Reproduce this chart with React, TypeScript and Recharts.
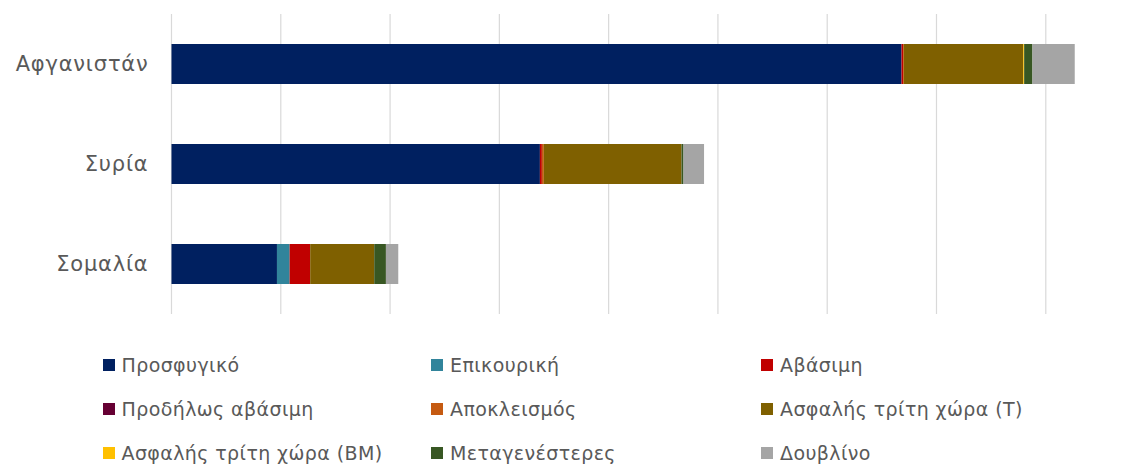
import { Bar, BarChart, CartesianGrid, Legend, XAxis, YAxis } from "recharts";

const countries = ["Αφγανιστάν", "Συρία", "Σομαλία"];

const prosfygiko = [6680, 3371, 965];
const epikouriki = [0, 0, 116];
const avasimi = [14, 18, 188];
const prodilosAvasimi = [0, 0, 0];
const apokleismos = [8, 18, 0];
const asfalisT = [1092, 1260, 586];
const asfalisBM = [8, 0, 0];
const metagenesteres = [76, 18, 107];
const doublino = [387, 188, 113];

const xTicks = [0, 1000, 2000, 3000, 4000, 5000, 6000, 7000, 8000];

const series = [
  { key: "prosfygiko", name: "Προσφυγικό", color: "#002060", values: prosfygiko },
  { key: "epikouriki", name: "Επικουρική", color: "#31849B", values: epikouriki },
  { key: "avasimi", name: "Αβάσιμη", color: "#C00000", values: avasimi },
  { key: "prodilos", name: "Προδήλως αβάσιμη", color: "#660033", values: prodilosAvasimi },
  { key: "apokleismos", name: "Αποκλεισμός", color: "#C55A11", values: apokleismos },
  { key: "asfalisT", name: "Ασφαλής τρίτη χώρα (Τ)", color: "#7F6000", values: asfalisT },
  { key: "asfalisBM", name: "Ασφαλής τρίτη χώρα (ΒΜ)", color: "#FFC000", values: asfalisBM },
  { key: "metagenesteres", name: "Μεταγενέστερες", color: "#385723", values: metagenesteres },
  { key: "doublino", name: "Δουβλίνο", color: "#A5A5A5", values: doublino },
];

const data = countries.map((country, i) => {
  const row: Record<string, string | number> = { country };
  series.forEach((s) => {
    row[s.key] = s.values[i];
  });
  return row;
});

const FONT = "'DejaVu Sans', sans-serif";
const TEXT = "#595959";
const colX = [102.5, 431, 761];

function LegendGrid() {
  return (
    <div style={{ position: "relative", width: 1143, height: 130 }}>
      {series.map((s, i) => (
        <div
          key={s.key}
          style={{
            position: "absolute",
            left: colX[i % 3],
            top: Math.floor(i / 3) * 44,
            display: "flex",
            alignItems: "center",
            height: 26,
            fontFamily: FONT,
            fontSize: 19,
            letterSpacing: 0.4,
            color: TEXT,
            whiteSpace: "nowrap",
          }}
        >
          <span
            style={{
              width: 12,
              height: 12,
              background: s.color,
              marginRight: 7,
              display: "inline-block",
            }}
          />
          <span>{s.name}</span>
        </div>
      ))}
    </div>
  );
}

export default function App() {
  return (
    <div style={{ position: "absolute", left: 0, top: 0, background: "#fff" }}>
      <BarChart
        width={1143}
        height={466}
        data={data}
        layout="vertical"
        margin={{ top: 14, right: 53.5, bottom: 152, left: 0 }}
        barSize={40}
      >
        <CartesianGrid
          horizontal={false}
          stroke="#d9d9d9"
          strokeWidth={1.2}
          syncWithTicks
        />
        <XAxis type="number" domain={[0, 8400]} ticks={xTicks} hide />
        <YAxis
          type="category"
          dataKey="country"
          width={171.5}
          tickLine={false}
          axisLine={false}
          tickMargin={17}
          tick={{ fill: TEXT, fontSize: 21, fontFamily: FONT, letterSpacing: 0.8 }}
        />
        {series.map((s) => (
          <Bar
            key={s.key}
            dataKey={s.key}
            name={s.name}
            stackId="a"
            fill={s.color}
            isAnimationActive={false}
          />
        ))}
        <Legend
          layout="horizontal"
          align="center"
          verticalAlign="middle"
          content={() => <LegendGrid />}
          wrapperStyle={{ top: 352, left: 0, width: 1143 }}
        />
      </BarChart>
    </div>
  );
}
